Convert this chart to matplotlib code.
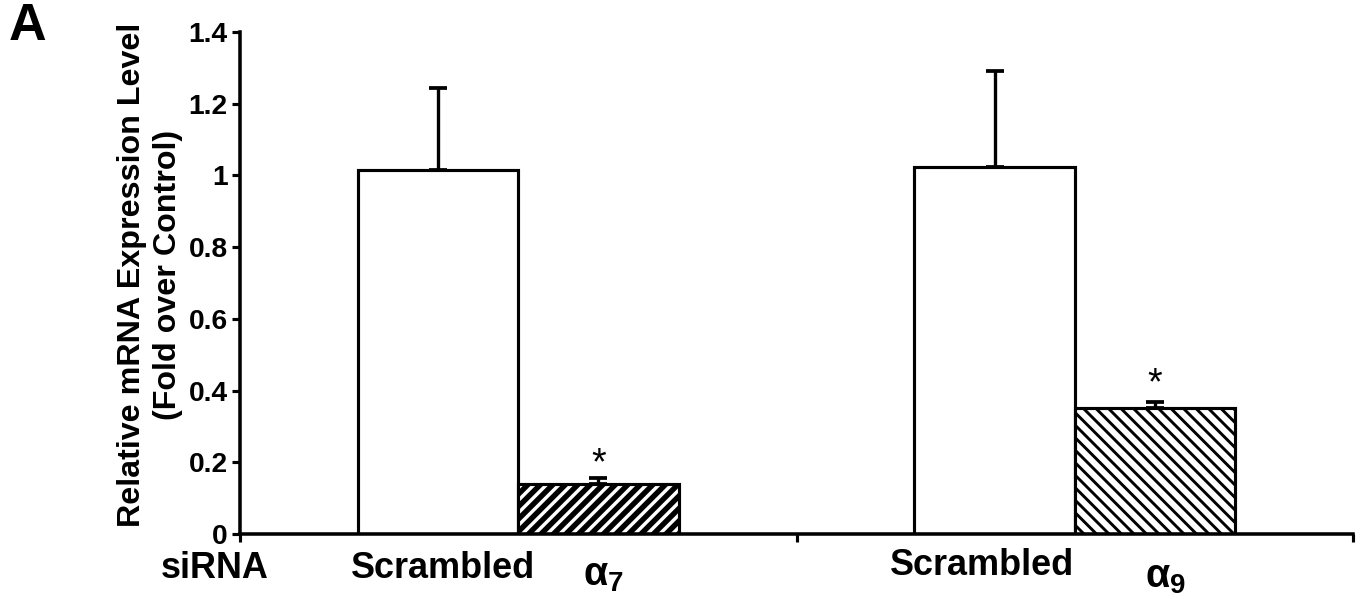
import matplotlib
matplotlib.use("Agg")
import matplotlib.pyplot as plt
import numpy as np

# ---- data ----
groups = [0, 1]
control_label = "Scrambled"
knock_labels = ["α$_{7}$", "α$_{9}$"]
scrambled_vals = [1.015, 1.023]
scrambled_err = [0.229, 0.268]
knock_vals = [0.139, 0.351]
knock_err = [0.017, 0.017]
yticks = [0, 0.2, 0.4, 0.6, 0.8, 1, 1.2, 1.4]
ytick_labels = ["0", "0.2", "0.4", "0.6", "0.8", "1", "1.2", "1.4"]

DPI = 150
W, H = 1363, 599
plt.rcParams['font.family'] = ['Liberation Sans', 'DejaVu Sans']
plt.rcParams['font.weight'] = 'bold'
plt.rcParams['mathtext.fontset'] = 'custom'
plt.rcParams['mathtext.rm'] = 'Liberation Sans'
plt.rcParams['mathtext.bf'] = 'Liberation Sans:bold'

fig = plt.figure(figsize=(W / DPI, H / DPI), dpi=DPI)
ax = fig.add_axes([240 / W, 1 - 534 / H, 1113 / W, 502 / H])

bw = 0.288
x = np.array(groups, dtype=float)
xs = x - bw / 2
xk = x + bw / 2

ax.bar(xs, scrambled_vals, width=bw, color='white', edgecolor='black',
       linewidth=1.5, zorder=2)
hatches = ['////', '\\\\\\\\']
hlw = [2.6, 1.4]
for i in range(len(groups)):
    with plt.rc_context({'hatch.linewidth': hlw[i]}):
        b = ax.bar(xk[i], knock_vals[i], width=bw, color='white', edgecolor='black',
                   hatch=hatches[i], linewidth=1.5, zorder=2)
    for p in b:
        if hasattr(p, 'set_hatch_linewidth'):
            p.set_hatch_linewidth(hlw[i])

ax.errorbar(xs, scrambled_vals, yerr=[np.zeros(len(groups)), scrambled_err],
            fmt='none', ecolor='black', elinewidth=1.6, capsize=4.3, capthick=1.8, zorder=3)
ax.errorbar(xk, knock_vals, yerr=[np.zeros(len(groups)), knock_err],
            fmt='none', ecolor='black', elinewidth=1.6, capsize=4.3, capthick=1.8, zorder=3)

star_off = [-0.012, 0.0]
for i in range(len(groups)):
    ax.text(xk[i], knock_vals[i] + knock_err[i] + star_off[i], '*', ha='center', va='bottom',
            fontsize=18, fontweight='normal')

ax.set_xlim(-0.5, 1.5)
ax.set_ylim(0, 1.4)
ax.set_yticks(yticks)
ax.set_yticklabels(ytick_labels, fontsize=13.5, fontweight='bold')
ax.set_xticks([-0.5, 0.5, 1.5])
ax.set_xticklabels([])
ax.tick_params(axis='both', length=3.9, width=1.5, pad=2, color='black')
for s in ['top', 'right']:
    ax.spines[s].set_visible(False)
for s in ['left', 'bottom']:
    ax.spines[s].set_linewidth(1.7)

tr = ax.get_xaxis_transform()
# category labels
ax.text(-0.135, -0.0876, control_label, transform=tr, ha='center', va='baseline',
        fontsize=17.3, fontweight='bold', clip_on=False)
ax.text(0.833, -0.0816, control_label, transform=tr, ha='center', va='baseline',
        fontsize=17.3, fontweight='bold', clip_on=False)
ax.text(0.153, -0.1016, knock_labels[0], transform=tr, ha='center', va='baseline',
        fontsize=19, fontweight='bold', clip_on=False)
ax.text(1.163, -0.1056, knock_labels[1], transform=tr, ha='center', va='baseline',
        fontsize=19, fontweight='bold', clip_on=False)
ax.text(-0.545, -0.0876, "siRNA", transform=tr, ha='center', va='baseline',
        fontsize=17.3, fontweight='bold', clip_on=False)

fig.text(150 / W, 1 - 275 / H, "Relative mRNA Expression Level\n(Fold over Control)",
         rotation=90, ha='center', va='center', fontsize=15.5, fontweight='bold',
         multialignment='center', linespacing=1.3)
fig.text(9 / W, 1 - 40 / H, "A", ha='left', va='baseline', fontsize=25, fontweight='bold')

fig.savefig("out.png", dpi=DPI)
